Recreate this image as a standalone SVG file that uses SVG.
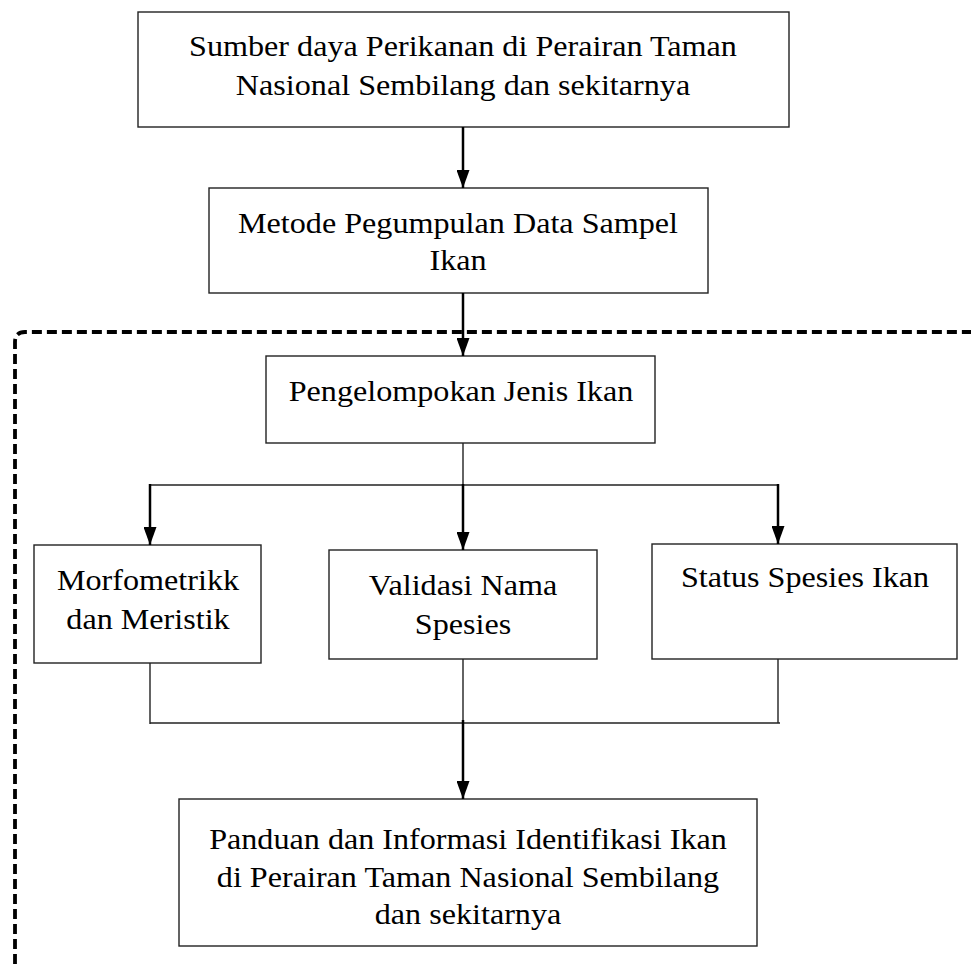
<svg xmlns="http://www.w3.org/2000/svg" width="971" height="964" viewBox="0 0 971 964">
<style>
.box{fill:#fff;stroke:#222;stroke-width:1.4}
.t{font-family:"Liberation Serif","Times New Roman",serif;font-size:29.5px;fill:#000;text-anchor:middle}
.thin{stroke:#222;stroke-width:1.4;fill:none}
.arr{stroke:#000;stroke-width:2.5;fill:none;marker-end:url(#ah)}
.dash{stroke:#000;stroke-width:3.8;fill:none;stroke-dasharray:10 5}
</style>
<defs>
<marker id="ah" markerUnits="userSpaceOnUse" markerWidth="18" markerHeight="13" viewBox="0 0 18 13" refX="18" refY="6.5" orient="auto">
<path d="M0,0 L18,6.5 L0,13 z" fill="#000"/>
</marker>
</defs>
<path class="dash" d="M15,964 L15,342 Q15,332 25,332 L971,332"/>
<g id="n1">
<rect class="box" x="138" y="12" width="651" height="115"/>
<text class="t" transform="translate(463,56) scale(1.09,1)">Sumber daya Perikanan di Perairan Taman</text>
<text class="t" transform="translate(463,95) scale(1.09,1)">Nasional Sembilang dan sekitarnya</text>
</g>
<g id="n2">
<rect class="box" x="209" y="188" width="499" height="105"/>
<text class="t" transform="translate(458,233) scale(1.09,1)">Metode Pegumpulan Data Sampel</text>
<text class="t" transform="translate(458,270) scale(1.09,1)">Ikan</text>
</g>
<g id="n3">
<rect class="box" x="266" y="356" width="389" height="87"/>
<text class="t" transform="translate(461,401) scale(1.09,1)">Pengelompokan Jenis Ikan</text>
</g>
<g id="n4">
<rect class="box" x="34" y="545" width="227" height="118"/>
<text class="t" transform="translate(148,590) scale(1.09,1)">Morfometrikk</text>
<text class="t" transform="translate(148,629) scale(1.09,1)">dan Meristik</text>
</g>
<g id="n5">
<rect class="box" x="329" y="550" width="268" height="109"/>
<text class="t" transform="translate(463,595) scale(1.09,1)">Validasi Nama</text>
<text class="t" transform="translate(463,634) scale(1.09,1)">Spesies</text>
</g>
<g id="n6">
<rect class="box" x="652" y="544" width="305" height="115"/>
<text class="t" transform="translate(805,587) scale(1.09,1)">Status Spesies Ikan</text>
</g>
<g id="n7">
<rect class="box" x="179" y="799" width="578" height="147"/>
<text class="t" transform="translate(468,849) scale(1.09,1)">Panduan dan Informasi Identifikasi Ikan</text>
<text class="t" transform="translate(468,887) scale(1.09,1)">di Perairan Taman Nasional Sembilang</text>
<text class="t" transform="translate(468,924) scale(1.09,1)">dan sekitarnya</text>
</g>
<g id="connectors">
<line class="arr" x1="463" y1="127" x2="463" y2="188"/>
<line class="arr" x1="463" y1="293" x2="463" y2="356"/>
<line class="thin" x1="463" y1="443" x2="463" y2="485"/>
<line class="thin" x1="150" y1="485" x2="779" y2="485"/>
<line class="arr" x1="150" y1="484" x2="150" y2="545"/>
<line class="arr" x1="463" y1="484" x2="463" y2="550"/>
<line class="arr" x1="778" y1="484" x2="778" y2="544"/>
<line class="thin" x1="150" y1="663" x2="150" y2="724"/>
<line class="thin" x1="463" y1="659" x2="463" y2="723"/>
<line class="thin" x1="778" y1="659" x2="778" y2="723"/>
<line class="thin" x1="150" y1="723" x2="780" y2="723"/>
<line class="arr" x1="463" y1="720" x2="463" y2="799"/>
</g>
</svg>
